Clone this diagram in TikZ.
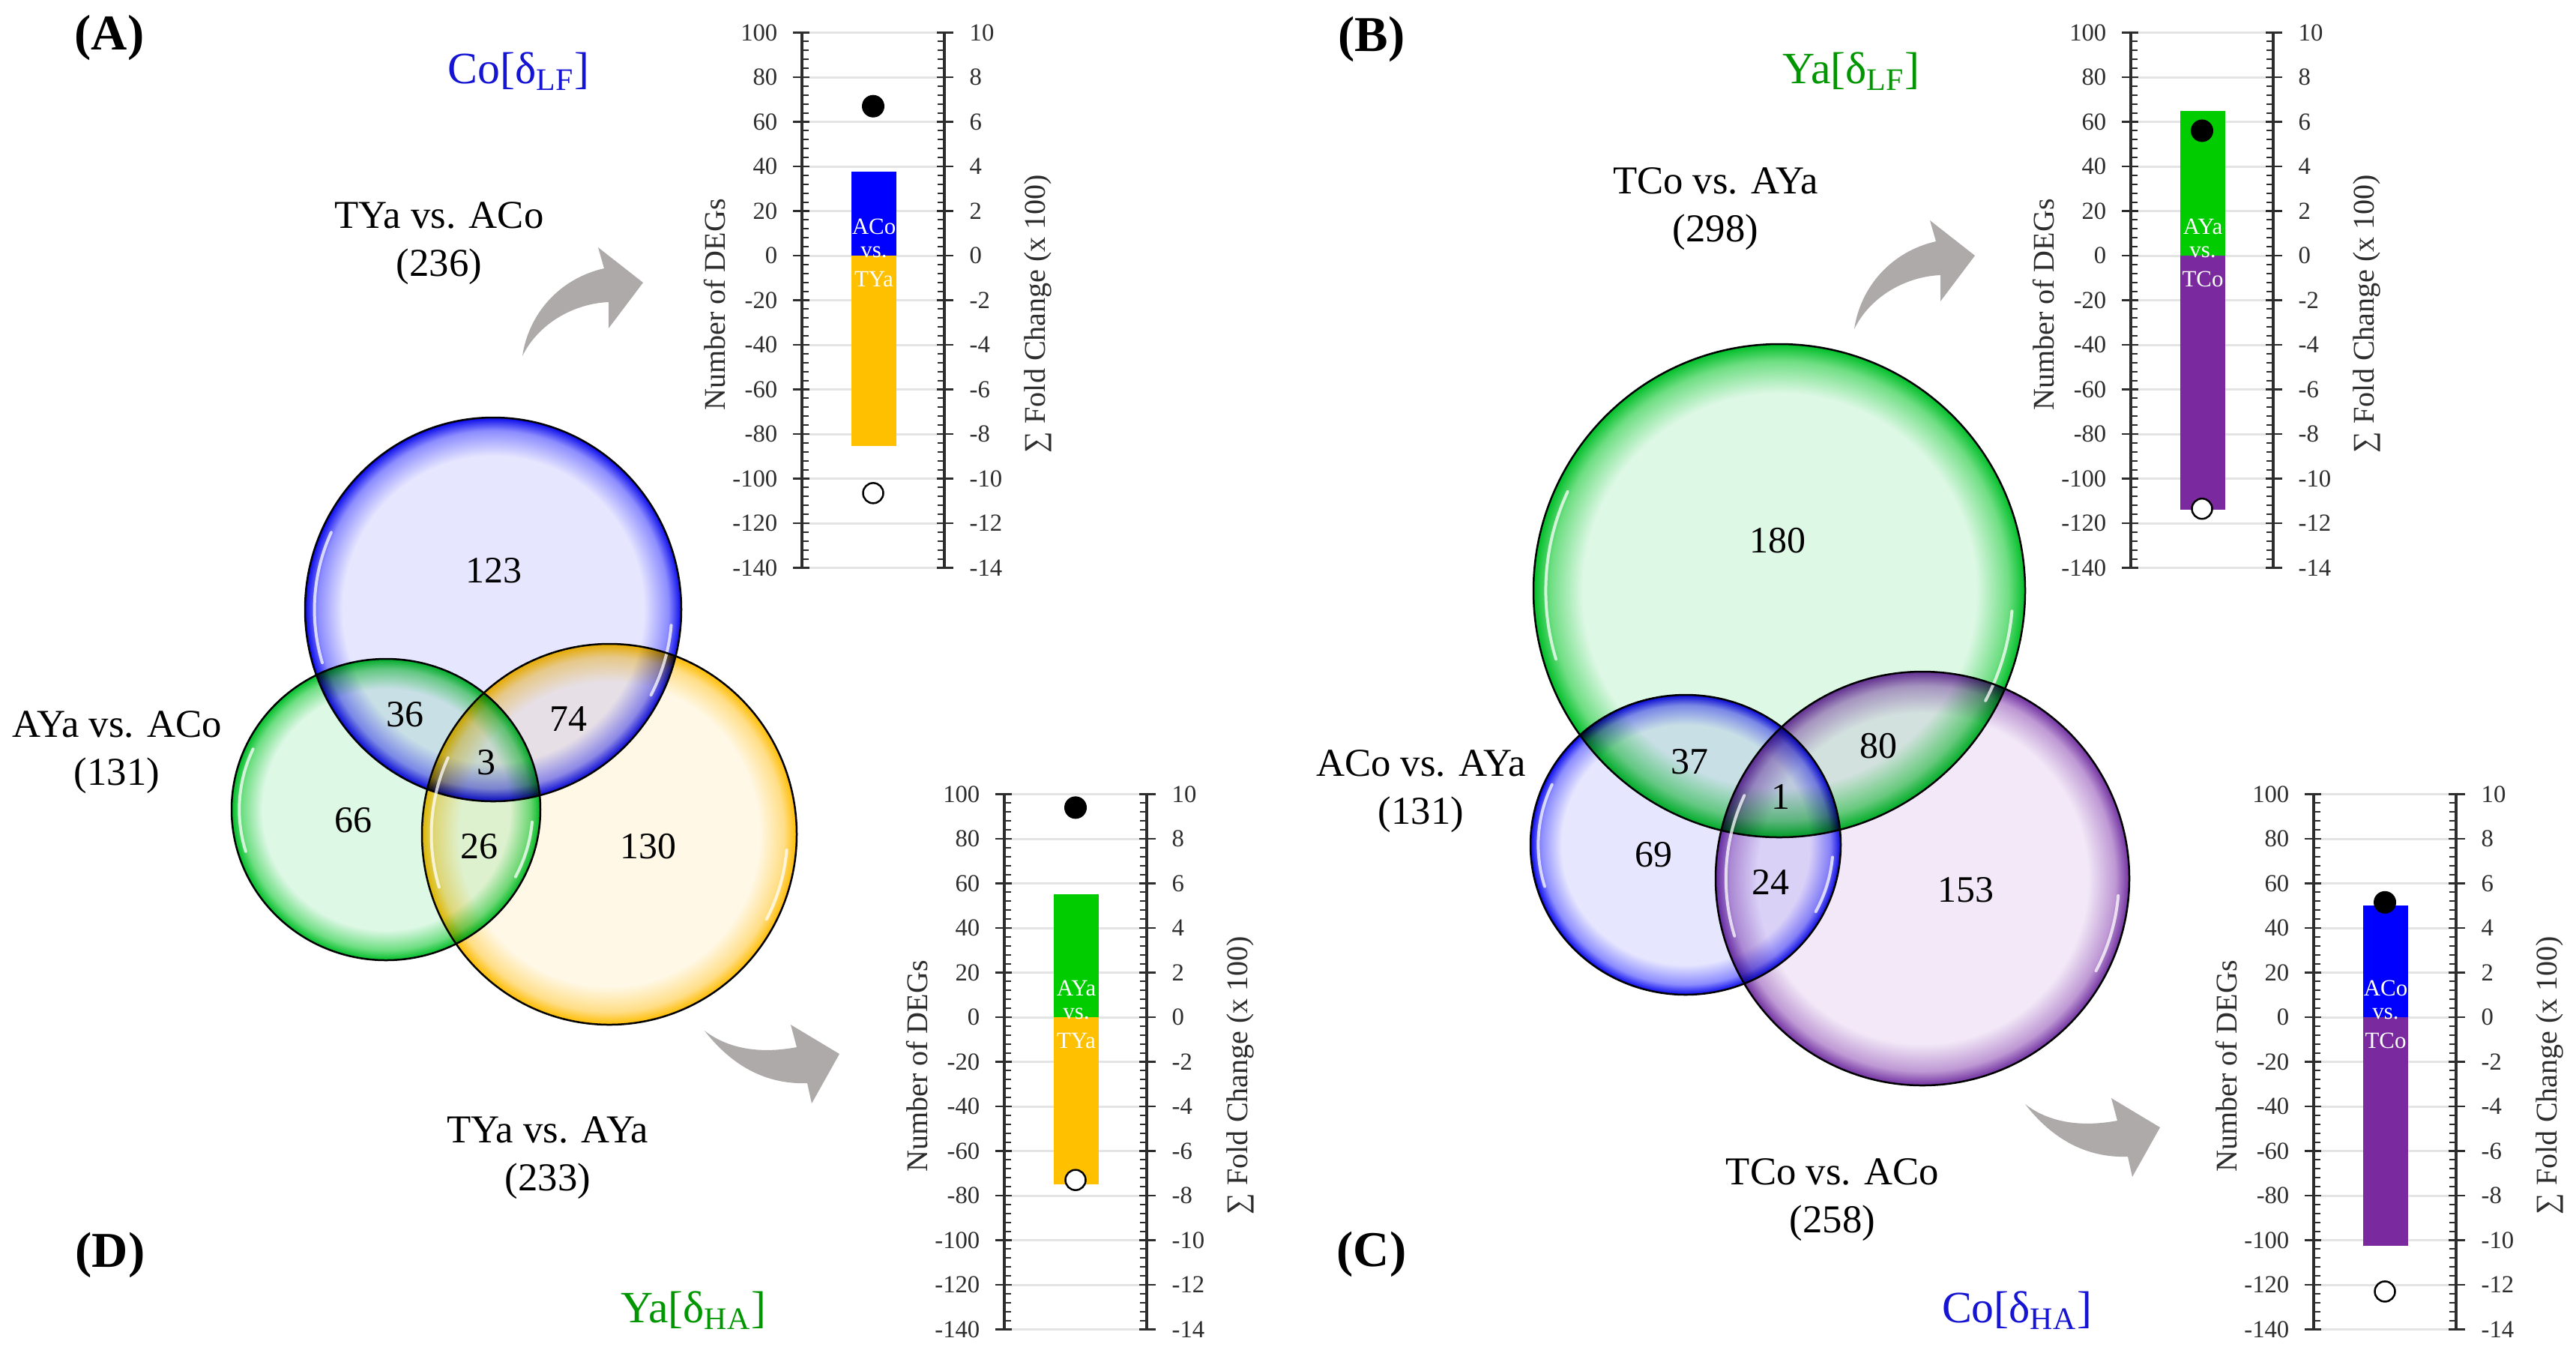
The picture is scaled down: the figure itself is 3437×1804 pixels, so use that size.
\documentclass[tikz,border=0pt]{standalone}
\usepackage{fontspec}
\setmainfont{Liberation Serif}
\usetikzlibrary{calc}

\definecolor{cBlue}{RGB}{0,0,255}
\definecolor{cYel}{RGB}{255,192,0}
\definecolor{cGreen}{RGB}{0,204,0}
\definecolor{cPur}{RGB}{122,42,158}
\definecolor{cArrow}{RGB}{174,170,170}
\definecolor{cTBlue}{RGB}{20,20,210}
\definecolor{cTGreen}{RGB}{0,150,0}
\definecolor{cGrid}{RGB}{228,228,228}
\definecolor{cAxis}{RGB}{45,45,45}

\definecolor{vbL}{RGB}{230,230,255}
\definecolor{vbM}{RGB}{140,140,255}
\definecolor{vbS}{RGB}{10,10,235}
\definecolor{vgL}{RGB}{222,248,230}
\definecolor{vgM}{RGB}{110,222,130}
\definecolor{vgS}{RGB}{0,190,40}
\definecolor{vyL}{RGB}{255,248,230}
\definecolor{vyM}{RGB}{255,222,135}
\definecolor{vyS}{RGB}{255,188,0}
\definecolor{vpL}{RGB}{242,232,247}
\definecolor{vpM}{RGB}{190,152,212}
\definecolor{vpS}{RGB}{112,48,160}

\pgfdeclareradialshading{vennblue}{\pgfpointorigin}{color(0bp)=(vbL);color(20bp)=(vbL);color(23.3bp)=(vbM);color(25bp)=(vbS);color(50bp)=(vbS)}
\pgfdeclareradialshading{venngreen}{\pgfpointorigin}{color(0bp)=(vgL);color(20bp)=(vgL);color(23.3bp)=(vgM);color(25bp)=(vgS);color(50bp)=(vgS)}
\pgfdeclareradialshading{vennyellow}{\pgfpointorigin}{color(0bp)=(vyL);color(20bp)=(vyL);color(23.3bp)=(vyM);color(25bp)=(vyS);color(50bp)=(vyS)}
\pgfdeclareradialshading{vennpurple}{\pgfpointorigin}{color(0bp)=(vpL);color(20bp)=(vpL);color(23.3bp)=(vpM);color(25bp)=(vpS);color(50bp)=(vpS)}

\tikzset{
  gridln/.style={cGrid, line width=0.3mm},
  minorln/.style={cAxis, line width=0.2mm},
  majorln/.style={cAxis, line width=0.25mm},
  axisln/.style={cAxis, line width=0.35mm},
  ticklab/.style={inner sep=0pt, text=cAxis, font=\fontsize{9.3}{11}\selectfont},
  axtitle/.style={inner sep=0pt, text=cAxis, font=\fontsize{11.4}{13}\selectfont},
  barlab/.style={inner sep=0pt, text=white, font=\fontsize{8.8}{10}\selectfont},
  dotfull/.style={circle, fill=black, inner sep=0pt, minimum size=3mm},
  dotopen/.style={circle, draw=black, fill=white, line width=0.25mm, inner sep=0pt, minimum size=2.7mm},
  vennedge/.style={draw=black, line width=0.25mm},
  glint/.style={white, line width=0.4mm, opacity=0.75, line cap=round},
  vnum/.style={inner sep=0pt, font=\fontsize{14.2}{16}\selectfont},
  vlab/.style={inner sep=0pt, align=center, font=\fontsize{15}{18.2}\selectfont},
  panel/.style={inner sep=0pt, font=\fontsize{19}{22}\selectfont\bfseries},
  dtitle/.style={inner sep=0pt, font=\fontsize{17}{20}\selectfont},
  arrowfill/.style={fill=cArrow},
}

\newcommand\DEGgrid{\foreach \v in {-140,-120,...,100} {\draw[gridln] (0,\v) -- (190,\v);}}
\newcommand\DEGbar[4]{\fill[#3] (66,0) rectangle (126,#1); \fill[#4] (66,0) rectangle (126,#2);}
\newcommand\DEGaxes[1]{%
  \foreach \v in {-140,-136,...,100} {
    \draw[minorln] (0,\v) -- (9,\v);
    \draw[minorln] (181,\v) -- (190,\v);
  }
  \foreach \v [count=\i] in {-140,-120,...,100} {
    \draw[majorln] (-12,\v) -- (10,\v);
    \draw[majorln] (180,\v) -- (202,\v);
    \pgfmathtruncatemacro\w{\v/10}
    \node[ticklab, anchor=east] (#1-l\i) at (-32,\v) {\v};
    \node[ticklab, anchor=west] (#1-r\i) at (223,\v) {\w};
  }
  \draw[axisln] (0,-140) -- (0,100);
  \draw[axisln] (190,-140) -- (190,100);
  \node[axtitle, rotate=90] (#1-yl) at (-116,-22) {Number of DEGs};
  \node[axtitle, rotate=90] (#1-yr) at (315,-26) {∑ Fold Change (x 100)};
}
\newcommand\DEGtext[3]{%
  \node[barlab] (#1-t1) at (96,13) {#2};
  \node[barlab] (#1-t2) at (96,1.5) {vs.};
  \node[barlab] (#1-t3) at (96,-10.5) {#3};
}
\newcommand\vennrim[4]{%
  \draw[glint] (#1,#2) ++(163:{0.95*#3} and {0.95*#4}) arc[start angle=163, end angle=205, x radius={0.95*#3}, y radius={0.95*#4}];
  \draw[glint] (#1,#2) ++(5:{0.95*#3} and {0.95*#4}) arc[start angle=5, end angle=28, x radius={0.95*#3}, y radius={0.95*#4}];
  \draw[vennedge] (#1,#2) ellipse [x radius=#3, y radius=#4];
}

\begin{document}
\begin{tikzpicture}[x=0.1mm, y=-0.1mm]
\useasboundingbox (0,0) rectangle (3437,1804);
\fill[white] (0,0) rectangle (3437,1804);

% ---------- Venn fills ----------
\begin{scope}[blend mode=multiply]
  \shade[shading=vennblue] (658,813) ellipse [x radius=251, y radius=256];
  \shade[shading=venngreen] (515,1080) ellipse [x radius=206, y radius=201];
  \shade[shading=vennyellow] (813,1113) ellipse [x radius=250, y radius=254];
  \shade[shading=venngreen] (2374,788) ellipse [x radius=328, y radius=329];
  \shade[shading=vennblue] (2249,1127) ellipse [x radius=207, y radius=200];
  \shade[shading=vennpurple] (2565,1172) ellipse [x radius=276, y radius=276];
\end{scope}
\vennrim{658}{813}{251}{256}
\vennrim{515}{1080}{206}{201}
\vennrim{813}{1113}{250}{254}
\vennrim{2374}{788}{328}{329}
\vennrim{2249}{1127}{207}{200}
\vennrim{2565}{1172}{276}{276}

% ---------- Venn numbers ----------
\node[vnum] (vA1) at (659,761) {123};
\node[vnum] (vA2) at (540,953) {36};
\node[vnum] (vA3) at (758,959) {74};
\node[vnum] (vA4) at (649,1017) {3};
\node[vnum] (vA5) at (471,1094) {66};
\node[vnum] (vA6) at (639,1129) {26};
\node[vnum] (vA7) at (865,1129) {130};
\node[vnum] (vB1) at (2372,721) {180};
\node[vnum] (vB2) at (2254,1016) {37};
\node[vnum] (vB3) at (2506,995) {80};
\node[vnum] (vB4) at (2376,1063) {1};
\node[vnum] (vB5) at (2206,1140) {69};
\node[vnum] (vB6) at (2362,1177) {24};
\node[vnum] (vB7) at (2623,1187) {153};

% ---------- Venn set labels ----------
\node[vlab] (lA1) at (586,325) {TYa vs. ACo\\(236)};
\node[vlab] (lA2) at (156,1004) {AYa vs. ACo\\(131)};
\node[vlab] (lA3) at (731,1545) {TYa vs. AYa\\(233)};
\node[vlab] (lB1) at (2289,279) {TCo vs. AYa\\(298)};
\node[vlab] (lB2) at (1896,1056) {ACo vs. AYa\\(131)};
\node[vlab] (lB3) at (2445,1601) {TCo vs. ACo\\(258)};

% ---------- curved arrows ----------
\fill[arrowfill] (697,475) .. controls (705,420) and (745,372) .. (806,358) -- (798,330) -- (858,377) -- (812,438) -- (812,403) .. controls (765,405) and (718,432) .. (697,475) -- cycle;
\begin{scope}[shift={(1777,-36)}]
\fill[arrowfill] (697,475) .. controls (705,420) and (745,372) .. (806,358) -- (798,330) -- (858,377) -- (812,438) -- (812,403) .. controls (765,405) and (718,432) .. (697,475) -- cycle;
\end{scope}
\fill[arrowfill] (940,1375) .. controls (975,1420) and (1020,1447) .. (1077,1445) -- (1083,1472) -- (1120,1406) -- (1055,1367) -- (1063,1397) .. controls (1020,1405) and (975,1402) .. (940,1375) -- cycle;
\begin{scope}[shift={(1762,98)}]
\fill[arrowfill] (940,1375) .. controls (975,1420) and (1020,1447) .. (1077,1445) -- (1083,1472) -- (1120,1406) -- (1055,1367) -- (1063,1397) .. controls (1020,1405) and (975,1402) .. (940,1375) -- cycle;
\end{scope}

% ---------- charts ----------
\begin{scope}[shift={(1070,341)}, y=0.2975mm]
  \DEGgrid
  \DEGbar{37.5}{-85.5}{cBlue}{cYel}
  \DEGaxes{A}
  \DEGtext{A}{ACo}{TYa}
  \node[dotfull] (A-up) at (95,67) {};
  \node[dotopen] (A-dn) at (95,-106.5) {};
\end{scope}
\begin{scope}[shift={(2843,341)}, y=0.2975mm]
  \DEGgrid
  \DEGbar{65}{-114}{cGreen}{cPur}
  \DEGaxes{B}
  \DEGtext{B}{AYa}{TCo}
  \node[dotfull] (B-up) at (95,56) {};
  \node[dotopen] (B-dn) at (95,-113.5) {};
\end{scope}
\begin{scope}[shift={(1340,1357)}, y=0.2975mm]
  \DEGgrid
  \DEGbar{55}{-75}{cGreen}{cYel}
  \DEGaxes{D}
  \DEGtext{D}{AYa}{TYa}
  \node[dotfull] (D-up) at (95,94) {};
  \node[dotopen] (D-dn) at (95,-73) {};
\end{scope}
\begin{scope}[shift={(3087,1357)}, y=0.2975mm]
  \DEGgrid
  \DEGbar{50}{-102.5}{cBlue}{cPur}
  \DEGaxes{C}
  \DEGtext{C}{ACo}{TCo}
  \node[dotfull] (C-up) at (95,51.5) {};
  \node[dotopen] (C-dn) at (95,-123) {};
\end{scope}

% ---------- panel letters and titles ----------
\node[panel] (pA) at (146,50) {(A)};
\node[panel] (pB) at (1830,52) {(B)};
\node[panel] (pC) at (1830,1673) {(C)};
\node[panel] (pD) at (147,1674) {(D)};
\node[dtitle, text=cTBlue] (tA) at (692,95) {Co[δ\textsubscript{LF}]};
\node[dtitle, text=cTGreen] (tB) at (2470,95) {Ya[δ\textsubscript{LF}]};
\node[dtitle, text=cTGreen] (tD) at (925,1748) {Ya[δ\textsubscript{HA}]};
\node[dtitle, text=cTBlue] (tC) at (2691,1748) {Co[δ\textsubscript{HA}]};
\end{tikzpicture}
\end{document}
